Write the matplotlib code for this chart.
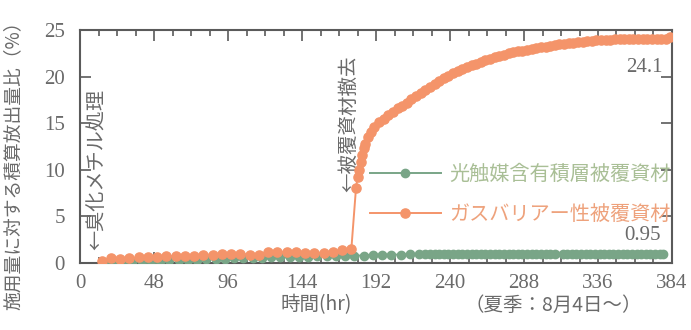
import matplotlib
matplotlib.use('Agg')
import matplotlib.pyplot as plt
from matplotlib.lines import Line2D
from matplotlib.ticker import MultipleLocator

plt.rcParams['font.family'] = ['Noto Sans CJK JP', 'DejaVu Sans']

# ---- data ----
t_gas = [14, 20, 26, 32, 38, 44, 50, 56, 62, 68, 74, 80, 86, 92, 98, 104, 110, 116,
         122, 128, 134, 140, 146, 152, 158, 164, 170, 176,
         179, 180, 181, 182, 183, 184, 185, 187, 189, 191, 194, 197,
         200, 203, 206, 209, 212, 215, 218, 221, 224, 227, 230, 233, 236, 239,
         242, 245, 248, 251, 254, 257, 260, 263, 266, 269, 272, 275, 278, 281,
         284, 287, 290, 293, 296, 299, 302, 305, 308, 311, 314, 317, 320, 323,
         326, 329, 332, 335, 338, 341, 344, 347, 350, 353, 356, 359, 362, 365,
         368, 371, 374, 377, 380, 383]
v_gas = [0.2, 0.5, 0.4, 0.5, 0.6, 0.6, 0.6, 0.7, 0.8, 0.8, 0.8, 0.9, 0.9, 1.0, 1.0, 1.0, 0.9, 0.9,
         1.2, 1.2, 1.2, 1.2, 1.1, 1.1, 1.1, 1.2, 1.4, 1.5,
         8.0, 9.2, 10.0, 10.8, 11.6, 12.3, 12.8, 13.5, 14.1, 14.6, 15.1, 15.5,
         15.9, 16.2, 16.6, 16.9, 17.2, 17.6, 17.9, 18.2, 18.6, 18.9, 19.2, 19.5, 19.8, 20.1,
         20.4, 20.6, 20.8, 21.0, 21.2, 21.4, 21.6, 21.8, 21.9, 22.1, 22.2, 22.3, 22.5, 22.6,
         22.7, 22.8, 22.9, 23.0, 23.1, 23.2, 23.2, 23.3, 23.4, 23.5, 23.5, 23.6, 23.6, 23.7,
         23.7, 23.8, 23.8, 23.9, 23.9, 23.9, 23.9, 24.0, 24.0, 24.0, 24.0, 24.0, 24.0, 24.0,
         24.0, 24.0, 24.0, 24.0, 24.0, 24.2]

t_photo = [16, 22, 28, 34, 40, 46, 52, 58, 64, 70, 76, 82, 88, 94, 100, 106, 112, 118,
           124, 130, 136, 142, 148, 154, 160, 166, 172, 178, 184, 190, 196, 202, 208, 214,
           220, 224, 227, 230, 233, 236, 239, 242, 245, 248, 251, 254, 257, 260, 263, 266,
           269, 272, 275, 278, 281, 284, 287, 290, 293, 296, 299, 302, 305, 308,
           313, 316, 319, 322, 325, 328, 331, 334, 337, 340, 343, 346, 349, 352, 355,
           358, 361, 364, 367, 370, 373, 376, 378]
v_photo = [0.0, 0.1, 0.1, 0.1, 0.2, 0.2, 0.2, 0.3, 0.3, 0.3, 0.3, 0.4, 0.4, 0.4, 0.5, 0.5, 0.5, 0.5,
           0.6, 0.6, 0.6, 0.6, 0.6, 0.7, 0.7, 0.7, 0.7, 0.8, 0.8, 0.9, 0.9, 0.9, 0.9, 0.95,
           0.95, 0.94, 0.95, 0.96, 0.95, 0.94, 0.95, 0.95, 0.96, 0.95, 0.94, 0.95, 0.95, 0.96, 0.95, 0.95,
           0.94, 0.95, 0.96, 0.95, 0.95, 0.94, 0.95, 0.96, 0.95, 0.95, 0.94, 0.95, 0.95, 0.96,
           0.95, 0.94, 0.95, 0.95, 0.96, 0.95, 0.94, 0.95, 0.95, 0.96, 0.95, 0.95, 0.94, 0.95, 0.95,
           0.96, 0.95, 0.95, 0.94, 0.95, 0.95, 0.96, 0.95]

label_photo = '光触媒含有積層被覆資材'
label_gas = 'ガスバリアー性被覆資材'
x_major = [0, 48, 96, 144, 192, 240, 288, 336, 384]

c_gas = '#f4946a'
c_photo = '#79a587'
c_axis = '#5a5a5a'
c_text = '#6a6a6a'
num_font = 'Liberation Serif'

fig = plt.figure(figsize=(6.91, 3.30), dpi=100)
ax = fig.add_axes([0.1158, 0.203, 0.8567, 0.706])

ax.plot(t_photo, v_photo, '-o', color=c_photo, lw=1.4, ms=6.0, mec=c_photo, zorder=3)
ax.plot(t_gas, v_gas, '-o', color=c_gas, lw=1.4, ms=6.6, mec=c_gas, zorder=4)

ax.set_xlim(0, 384)
ax.set_ylim(0, 25)
ax.set_xticks(x_major)
ax.set_xticklabels([str(v) for v in x_major], fontfamily=num_font, fontsize=15, color=c_text)
ax.xaxis.set_minor_locator(MultipleLocator(12))
ax.set_yticks([0, 5, 10, 15, 20, 25])
ax.set_yticklabels(['0', '5', '10', '15', '20', '25'], fontfamily=num_font, fontsize=15, color=c_text)

ax.tick_params(which='both', direction='in', top=True, right=True, color=c_axis, width=1.2)
ax.tick_params(which='major', length=8)
ax.tick_params(which='minor', length=4)
ax.tick_params(axis='y', which='major', pad=11)
ax.tick_params(axis='x', which='major', pad=8)
for sp in ax.spines.values():
    sp.set_color(c_axis)
    sp.set_linewidth(1.5)

# annotations
ax.text(11, 1.4, '←臭化メチル処理', rotation=90, ha='center', va='bottom',
        fontsize=14.5, color=c_text)
ax.text(174.5, 7.6, '←被覆資材撤去', rotation=90, ha='center', va='bottom',
        fontsize=14, color=c_text)
ax.text(378, 21.0, '24.1', ha='right', va='center', fontfamily=num_font, fontsize=15, color=c_text)
ax.text(377, 2.9, '0.95', ha='right', va='center', fontfamily=num_font, fontsize=15, color=c_text)

handles = [Line2D([], [], color=c_photo, lw=1.4, marker='o', ms=6.0),
           Line2D([], [], color=c_gas, lw=1.4, marker='o', ms=6.6)]
leg = ax.legend(handles, [label_photo, label_gas], loc='upper left',
                bbox_to_anchor=(0.49, 0.425), frameon=False, fontsize=14.5,
                handlelength=3.5, handletextpad=0.45, labelspacing=0.95,
                borderpad=0, borderaxespad=0, numpoints=1)
leg.get_texts()[0].set_color('#a9bf96')
leg.get_texts()[1].set_color('#eea27c')

fig.text(316 / 691, 1 - 305 / 330, '時間(hr)', ha='center', va='center', fontsize=14, color=c_text)
fig.text(553 / 691, 1 - 305 / 330, '（夏季：8月4日〜）', ha='center', va='center', fontsize=14, color=c_text)
fig.text(13 / 691, 1 - 12 / 330, '施用量に対する積算放出量比（%）', rotation=90, ha='center', va='top',
         fontsize=13.5, color=c_text)

fig.savefig('out.png', dpi=100)
